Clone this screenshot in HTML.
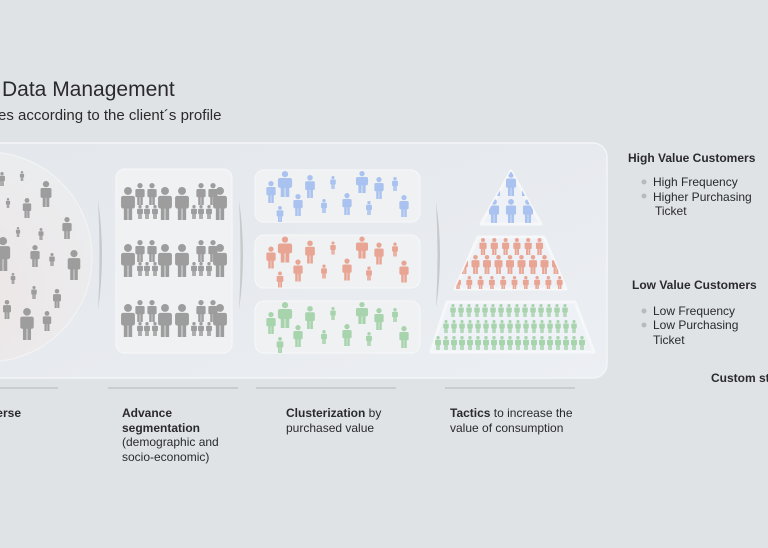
<!DOCTYPE html>
<html><head><meta charset="utf-8"><style>
html,body{margin:0;padding:0;width:768px;height:548px;overflow:hidden;background:#dfe3e6;font-family:"Liberation Sans",sans-serif;}
</style></head><body>
<svg id="s" width="768" height="548" viewBox="0 0 768 548" xmlns="http://www.w3.org/2000/svg">
<defs>
<linearGradient id="pg" x1="0" y1="0" x2="1" y2="1">
<stop offset="0" stop-color="#e4e8ec"/><stop offset="0.5" stop-color="#e7eaee"/><stop offset="1" stop-color="#eceff3"/></linearGradient>
<radialGradient id="cg" cx="0.4" cy="0.7" r="0.8"><stop offset="0" stop-color="#ece6e6"/><stop offset="1" stop-color="#ebedef"/></radialGradient>
<clipPath id="c1"><path d="M511,171 L541,224 L481,224 Z"/></clipPath>
<clipPath id="c2"><path d="M478,237 L544,237 L566,289 L455,289 Z"/></clipPath>
<clipPath id="c3"><path d="M447,302 L575,302 L594,352 L431,352 Z"/></clipPath>
</defs>
<rect width="768" height="548" fill="#dfe3e6"/>
<rect x="-20" y="143" width="627" height="235" rx="14" fill="url(#pg)" stroke="#f3f5f7" stroke-width="1.5"/>
<circle cx="-13" cy="257" r="105" fill="url(#cg)" stroke="#f4f4f5" stroke-width="1"/>
<rect x="116" y="169" width="116" height="184" rx="9" fill="#eff1f3" stroke="#f7f8f9"/>
<rect x="255" y="170" width="165" height="52" rx="9" fill="#eff1f3" stroke="#f7f8f9"/>
<rect x="255" y="235" width="165" height="53" rx="9" fill="#eff1f3" stroke="#f7f8f9"/>
<rect x="255" y="301" width="165" height="52" rx="9" fill="#eff1f3" stroke="#f7f8f9"/>
<path d="M511,171 L541,224 L481,224 Z" fill="#eef1f5" stroke="#f6f7f9" stroke-linejoin="round" stroke-width="3"/>
<path d="M478,237 L544,237 L566,289 L455,289 Z" fill="#eef1f5" stroke="#f6f7f9" stroke-linejoin="round" stroke-width="3"/>
<path d="M447,302 L575,302 L594,352 L431,352 Z" fill="#eef1f5" stroke="#f6f7f9" stroke-linejoin="round" stroke-width="3"/>
<path d="M98,200 Q106,255 98,310 Q101,255 98,200Z" fill="#c8c9cb"/>
<path d="M239,200 Q247,255 239,310 Q242,255 239,200Z" fill="#c8c9cb"/>
<path d="M436,202 Q444,255 436,308 Q439,255 436,202Z" fill="#c8c9cb"/>
<g id="ppl"></g>
<g stroke="#b4b7ba" stroke-width="1">
<line x1="0" y1="388" x2="58" y2="388"/><line x1="108" y1="388" x2="238" y2="388"/>
<line x1="256" y1="388" x2="396" y2="388"/><line x1="445" y1="388" x2="575" y2="388"/></g>
<g fill="#2a2a2c">
<text x="2" y="96" font-size="21">Data Management</text>
<text x="-2" y="120" font-size="15">es according to the client´s profile</text>
<text x="21" y="417" font-size="12" font-weight="bold" text-anchor="end">Universe</text>
<text x="122" y="417" font-size="12" font-weight="bold">Advance</text>
<text x="122" y="432" font-size="12" font-weight="bold">segmentation</text>
<text x="122" y="446" font-size="12">(demographic and</text>
<text x="122" y="461" font-size="12">socio-economic)</text>
<text x="286" y="417" font-size="12"><tspan font-weight="bold">Clusterization</tspan> by</text>
<text x="286" y="432" font-size="12">purchased value</text>
<text x="450" y="417" font-size="12"><tspan font-weight="bold">Tactics</tspan> to increase the</text>
<text x="450" y="432" font-size="12">value of consumption</text>
<text x="628" y="162" font-size="12" font-weight="bold">High Value Customers</text>
<text x="653" y="186" font-size="12">High Frequency</text>
<text x="653" y="201" font-size="12">Higher Purchasing</text>
<text x="655" y="215" font-size="12">Ticket</text>
<text x="632" y="289" font-size="12" font-weight="bold">Low Value Customers</text>
<text x="653" y="315" font-size="12">Low Frequency</text>
<text x="653" y="329" font-size="12">Low Purchasing</text>
<text x="653" y="344" font-size="12">Ticket</text>
<text x="711" y="382" font-size="12" font-weight="bold">Custom strategies</text>
</g>
<g fill="#b8babc"><circle cx="644" cy="182" r="2.5"/><circle cx="644" cy="196" r="2.5"/><circle cx="644" cy="311" r="2.5"/><circle cx="644" cy="325" r="2.5"/></g>
</svg>
<script>
var NS="http://www.w3.org/2000/svg",g=document.getElementById('ppl');
function P(cx,y,h,col,par,wf){par=par||g;wf=wf||1;var w=h*0.42*wf,e=document.createElementNS(NS,'g');e.setAttribute('fill',col);
var r=h*0.12;var s='<circle cx="'+cx+'" cy="'+(y+r)+'" r="'+r+'"/>'+
'<rect x="'+(cx-w/2)+'" y="'+(y+h*0.27)+'" width="'+w+'" height="'+(h*0.38)+'" rx="'+(w*0.15)+'"/>'+
'<rect x="'+(cx-w*0.3)+'" y="'+(y+h*0.55)+'" width="'+(w*0.27)+'" height="'+(h*0.45)+'"/>'+
'<rect x="'+(cx+w*0.03)+'" y="'+(y+h*0.55)+'" width="'+(w*0.27)+'" height="'+(h*0.45)+'"/>';
e.innerHTML=s;par.appendChild(e);}
var G='#9d9d9d';
[[2,172,14],[22,171,10],[46,181,26],[8,198,10],[27,198,20],[67,217,22],[18,227,10],[41,228,12],[3,237,34],[35,245,22],[52,253,13],[74,250,30],[13,273,11],[34,286,13],[57,289,19],[7,300,19],[27,308,32],[47,311,20]].forEach(function(a){P(a[0],a[1],a[2],G);});
[183,240,300].forEach(function(y){[128,165,182,220].forEach(function(x){P(x,y+4,33,G);});
[140,152,201,213].forEach(function(x){P(x,y,22,G);});[140,147,155,194,201,209].forEach(function(x){P(x,y+22,14,G);});});
var cl=[[271,181,22],[285,171,26,1.3],[310,175,23],[298,194,22],[280,206,16],[333,176,13],[324,199,14],[362,171,22,1.3],[379,177,22],[347,193,22],[369,201,14],[395,177,14],[404,195,22]];
[['#a9c2ef',0],['#e9a594',65.5],['#a7d3ad',131]].forEach(function(c){cl.forEach(function(a){P(a[0],a[1]+c[1],a[2],c[0],null,a[3]);});});
function grp(id){var e=document.createElementNS(NS,'g');e.setAttribute('clip-path','url(#'+id+')');g.appendChild(e);return e;}
var b=grp('c1');P(511,172,24,'#a9c2ef',b);P(497,172,24,'#a9c2ef',b);P(525,172,24,'#a9c2ef',b);
[494,511,528].forEach(function(x){P(x,199,24,'#a9c2ef',b);});
var r=grp('c2');for(var x=483;x<545;x+=11.3)P(x,238,17,'#e9a594',r);
for(var x=464;x<560;x+=11.5)P(x,255,19,'#e9a594',r);for(var x=458;x<566;x+=11.3)P(x,276,14,'#e9a594',r);
var gr=grp('c3');for(var x=453;x<572;x+=8)P(x,304,13,'#a7d3ad',gr);
for(var x=446;x<580;x+=8)P(x,320,13,'#a7d3ad',gr);for(var x=438;x<590;x+=8)P(x,336,14,'#a7d3ad',gr);
</script>
</body></html>
